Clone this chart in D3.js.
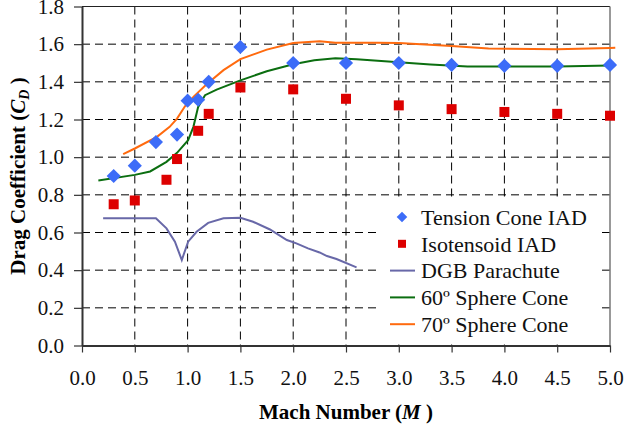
<!DOCTYPE html>
<html>
<head>
<meta charset="utf-8">
<script src="https://cdn.jsdelivr.net/npm/d3@7"></script>
<style>
  body { margin: 0; background: #fff; }
</style>
</head>
<body>
<script>
// Drag coefficient vs Mach number

var xTicks = [0, 0.5, 1.0, 1.5, 2.0, 2.5, 3.0, 3.5, 4.0, 4.5, 5.0];
var yTicks = [0, 0.2, 0.4, 0.6, 0.8, 1.0, 1.2, 1.4, 1.6, 1.8];

// test points
var tensionCone = [[0.3,0.90],[0.5,0.955],[0.7,1.08],[0.9,1.12],[1.0,1.30],[1.1,1.305],[1.2,1.40],
    [1.5,1.585],[2.0,1.50],[2.5,1.50],[3.0,1.50],[3.5,1.49],[4.0,1.485],[4.5,1.485],[5.0,1.49]];
var isotensoid = [[0.3,0.75],[0.5,0.77],[0.8,0.88],[0.9,0.99],[1.1,1.14],[1.2,1.23],[1.5,1.37],
    [2.0,1.36],[2.5,1.31],[3.0,1.275],[3.5,1.255],[4.0,1.24],[4.5,1.23],[5.0,1.22]];

// reference curves
var dgb = [[0.2,0.676],[0.7,0.676],[0.8,0.622],[0.88,0.551],[0.945,0.454],[1.005,0.551],[1.085,0.604],
    [1.195,0.651],[1.34,0.676],[1.5,0.678],[1.62,0.657],[1.78,0.616],[1.94,0.560],[2.03,0.542],
    [2.14,0.516],[2.25,0.494],[2.32,0.475],[2.41,0.459],[2.6,0.415]];
var sphere60 = [[0.155,0.876],[0.5,0.906],[0.645,0.924],[0.8,0.975],[0.9,1.023],[1.005,1.09],[1.055,1.161],
    [1.1,1.267],[1.165,1.329],[1.275,1.359],[1.5,1.408],[1.75,1.456],[2.0,1.493],[2.2,1.514],
    [2.4,1.525],[2.6,1.52],[3.0,1.504],[3.3,1.492],[3.65,1.481],[4.5,1.481],[5.0,1.487],[5.05,1.488]];
var sphere70 = [[0.39,1.016],[0.5,1.046],[0.71,1.108],[0.83,1.161],[0.9,1.205],[0.975,1.27],[1.055,1.32],
    [1.18,1.387],[1.34,1.462],[1.5,1.521],[1.75,1.571],[2.0,1.606],[2.25,1.615],[2.4,1.608],
    [2.8,1.608],[3.0,1.606],[3.5,1.59],[3.85,1.577],[4.5,1.573],[5.0,1.58],[5.05,1.581]];

var FONT = "Liberation Serif";
var W = 624, H = 424;
var margin = { top: 6.5, right: 14, bottom: 78.5, left: 82 };
var w = W - margin.left - margin.right;
var h = H - margin.top - margin.bottom;

var svg = d3.select("body").append("svg").attr("width", W).attr("height", H)
    .style("font-family", FONT);
var g = svg.append("g").attr("transform", "translate(" + margin.left + "," + margin.top + ")");

var x = d3.scaleLinear().domain([0, 5]).range([0, w]);
var y = d3.scaleLinear().domain([0, 1.8]).range([h, 0]);

// dashed grid
g.selectAll(".hgrid").data(yTicks.slice(1, -1)).enter().append("line")
    .attr("x1", 0).attr("x2", w)
    .attr("y1", function(d) { return y(d); }).attr("y2", function(d) { return y(d); })
    .attr("stroke", "#000").attr("stroke-width", 1).attr("stroke-dasharray", "8,5");
g.selectAll(".vgrid").data(xTicks.slice(1, -1)).enter().append("line")
    .attr("y1", 0).attr("y2", h)
    .attr("x1", function(d) { return x(d); }).attr("x2", function(d) { return x(d); })
    .attr("stroke", "#000").attr("stroke-width", 1).attr("stroke-dasharray", "8,5");

// frame top / right
g.append("line").attr("x1", 0).attr("x2", w).attr("y1", 0).attr("y2", 0).attr("stroke", "#222");
g.append("line").attr("x1", w).attr("x2", w).attr("y1", 0).attr("y2", h).attr("stroke", "#777").attr("stroke-width", 1.5);

// axes
var xAxis = g.append("g").attr("transform", "translate(0," + h + ")")
    .call(d3.axisBottom(x).tickValues(xTicks).tickFormat(d3.format(".1f")).tickSize(7).tickPadding(18).tickSizeOuter(0));
var yAxis = g.append("g")
    .call(d3.axisLeft(y).tickValues(yTicks).tickFormat(d3.format(".1f")).tickSize(8).tickPadding(10).tickSizeOuter(0));
[xAxis, yAxis].forEach(function(a) {
    a.attr("font-family", null).attr("font-size", null);
    a.select(".domain").attr("stroke", "#333").attr("stroke-width", 2);
    a.selectAll(".tick line").attr("stroke", "#333").attr("stroke-width", 1.2);
    a.selectAll("text").style("font-family", FONT).style("font-size", "21px").attr("fill", "#111");
});

// curves
var line = d3.line().x(function(d) { return x(d[0]); }).y(function(d) { return y(d[1]); });
var curves = [
    { data: dgb, color: "#6868a8" },
    { data: sphere60, color: "#0b6e10" },
    { data: sphere70, color: "#ff6a0e" }
];
curves.forEach(function(c) {
    g.append("path").datum(c.data).attr("d", line)
        .attr("fill", "none").attr("stroke", c.color).attr("stroke-width", 2);
});

// markers
var diamond = d3.symbol().type(d3.symbolSquare).size(100);
g.selectAll(".tc").data(tensionCone).enter().append("path")
    .attr("d", diamond)
    .attr("transform", function(d) { return "translate(" + x(d[0]) + "," + y(d[1]) + ") rotate(45)"; })
    .attr("fill", "#3c6cf8");
g.selectAll(".iso").data(isotensoid).enter().append("rect")
    .attr("x", function(d) { return x(d[0]) - 5; })
    .attr("y", function(d) { return y(d[1]) - 5; })
    .attr("width", 10).attr("height", 10)
    .attr("fill", "#dd0000");

// legend
var legendItems = [
    { name: "Tension Cone IAD", type: "diamond", color: "#3c6cf8" },
    { name: "Isotensoid IAD", type: "square", color: "#dd0000" },
    { name: "DGB Parachute", type: "line", color: "#6868a8" },
    { name: "60º Sphere Cone", type: "line", color: "#0b6e10" },
    { name: "70º Sphere Cone", type: "line", color: "#ff6a0e" }
];
var lg = svg.append("g").attr("transform", "translate(380,199)");
lg.append("rect").attr("width", 218).attr("height", 145).attr("fill", "#fff");
legendItems.forEach(function(it, i) {
    var cy = 18 + i * 26.8;
    if (it.type === "diamond") {
        lg.append("path").attr("d", d3.symbol().type(d3.symbolSquare).size(56))
            .attr("transform", "translate(22," + cy + ") rotate(45)").attr("fill", it.color);
    } else if (it.type === "square") {
        lg.append("rect").attr("x", 18).attr("y", cy - 4).attr("width", 8).attr("height", 8).attr("fill", it.color);
    } else {
        lg.append("line").attr("x1", 10).attr("x2", 35).attr("y1", cy).attr("y2", cy)
            .attr("stroke", it.color).attr("stroke-width", 2);
    }
    lg.append("text").attr("x", 41).attr("y", cy).attr("dy", "0.35em")
        .style("font-size", "22px").attr("fill", "#111").text(it.name);
});

// axis titles
var xt = svg.append("text").attr("x", margin.left + w / 2).attr("y", 412).attr("dy", "0.35em")
    .attr("text-anchor", "middle").style("font-size", "21px").style("font-weight", "bold");
xt.append("tspan").text("Mach Number (");
xt.append("tspan").style("font-style", "italic").text("M");
xt.append("tspan").text(" )");

var yt = svg.append("text").attr("transform", "translate(18," + (margin.top + h / 2) + ") rotate(-90)")
    .attr("dy", "0.35em").attr("text-anchor", "middle").style("font-size", "21px").style("font-weight", "bold");
yt.append("tspan").text("Drag Coefficient (");
yt.append("tspan").style("font-style", "italic").text("C");
yt.append("tspan").style("font-style", "italic").style("font-size", "14px").attr("dy", "4").text("D");
yt.append("tspan").attr("dy", "-4").text(" )");
</script>
</body>
</html>
